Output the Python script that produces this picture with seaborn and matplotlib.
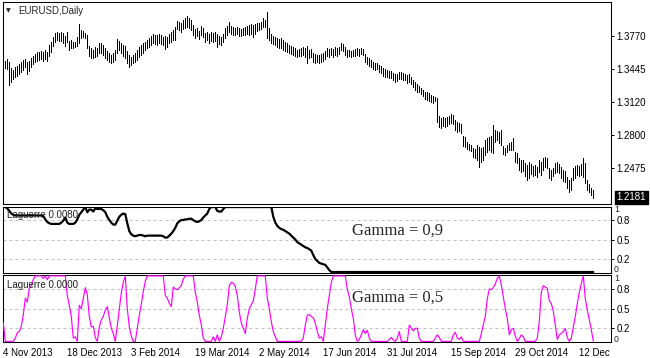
import numpy as np
import matplotlib
matplotlib.use("Agg")
import matplotlib.pyplot as plt
import matplotlib.transforms as mtrans
import seaborn as sns

# ---------------- data ----------------
symbol_title = "EURUSD,Daily"

highs = [
    1.3534, 1.3524, 1.3544, 1.3514, 1.3455, 1.3436, 1.3465, 1.3475, 1.3495, 1.3514,
    1.3534, 1.3544, 1.3514, 1.3524, 1.3554, 1.3573, 1.3593, 1.3613, 1.3613, 1.3623,
    1.3613, 1.3633, 1.3613, 1.3682, 1.3711, 1.3761, 1.3800, 1.3810, 1.3800, 1.3810,
    1.3800, 1.3770, 1.3810, 1.3721, 1.3731, 1.3711, 1.3711, 1.3761, 1.3889, 1.3830,
    1.3820, 1.3800, 1.3780, 1.3672, 1.3652, 1.3633, 1.3662, 1.3652, 1.3701, 1.3701,
    1.3682, 1.3652, 1.3623, 1.3603, 1.3583, 1.3603, 1.3633, 1.3741, 1.3721, 1.3701,
    1.3682, 1.3672, 1.3623, 1.3583, 1.3564, 1.3583, 1.3603, 1.3633, 1.3662, 1.3682,
    1.3701, 1.3711, 1.3731, 1.3751, 1.3770, 1.3790, 1.3780, 1.3780, 1.3790, 1.3780,
    1.3761, 1.3770, 1.3761, 1.3790, 1.3810, 1.3830, 1.3859, 1.3918, 1.3908, 1.3898,
    1.3928, 1.3948, 1.3967, 1.3948, 1.3928, 1.3879, 1.3839, 1.3849, 1.3820, 1.3869,
    1.3849, 1.3800, 1.3810, 1.3790, 1.3810, 1.3800, 1.3810, 1.3790, 1.3770, 1.3761,
    1.3790, 1.3849, 1.3869, 1.3908, 1.3869, 1.3859, 1.3849, 1.3859, 1.3849, 1.3839,
    1.3849, 1.3859, 1.3869, 1.3879, 1.3889, 1.3879, 1.3889, 1.3898, 1.3898, 1.3908,
    1.3948, 1.3928, 1.4007, 1.3849, 1.3790, 1.3770, 1.3761, 1.3751, 1.3741, 1.3751,
    1.3731, 1.3711, 1.3701, 1.3682, 1.3672, 1.3662, 1.3652, 1.3633, 1.3642, 1.3652,
    1.3662, 1.3652, 1.3672, 1.3633, 1.3642, 1.3603, 1.3593, 1.3583, 1.3583, 1.3593,
    1.3603, 1.3623, 1.3652, 1.3642, 1.3652, 1.3642, 1.3662, 1.3652, 1.3662, 1.3701,
    1.3692, 1.3662, 1.3633, 1.3633, 1.3623, 1.3633, 1.3642, 1.3652, 1.3642, 1.3652,
    1.3642, 1.3593, 1.3564, 1.3554, 1.3534, 1.3514, 1.3504, 1.3504, 1.3485, 1.3475,
    1.3455, 1.3445, 1.3436, 1.3426, 1.3426, 1.3406, 1.3396, 1.3396, 1.3416, 1.3416,
    1.3406, 1.3396, 1.3386, 1.3396, 1.3367, 1.3337, 1.3317, 1.3298, 1.3278, 1.3258,
    1.3239, 1.3219, 1.3219, 1.3209, 1.3189, 1.3179, 1.3170, 1.3160, 1.2982, 1.2963,
    1.2973, 1.2963, 1.2973, 1.2982, 1.3002, 1.2992, 1.2943, 1.2923, 1.2913, 1.2904,
    1.2785, 1.2776, 1.2726, 1.2707, 1.2697, 1.2667, 1.2657, 1.2697, 1.2677, 1.2667,
    1.2677, 1.2746, 1.2766, 1.2776, 1.2785, 1.2894, 1.2845, 1.2835, 1.2825, 1.2845,
    1.2687, 1.2667, 1.2697, 1.2717, 1.2726, 1.2766, 1.2628, 1.2618, 1.2569, 1.2549,
    1.2549, 1.2520, 1.2500, 1.2529, 1.2510, 1.2490, 1.2500, 1.2480, 1.2549, 1.2529,
    1.2569, 1.2579, 1.2569, 1.2470, 1.2451, 1.2470, 1.2520, 1.2529, 1.2510, 1.2480,
    1.2451, 1.2441, 1.2382, 1.2352, 1.2372, 1.2470, 1.2490, 1.2500, 1.2490, 1.2510,
    1.2569, 1.2520, 1.2352, 1.2313, 1.2273, 1.2254,
]

lows = [
    1.3436, 1.3455, 1.3445, 1.3288, 1.3317, 1.3347, 1.3367, 1.3376, 1.3396, 1.3416,
    1.3436, 1.3465, 1.3396, 1.3426, 1.3465, 1.3495, 1.3514, 1.3524, 1.3534, 1.3544,
    1.3524, 1.3544, 1.3524, 1.3573, 1.3613, 1.3672, 1.3711, 1.3731, 1.3721, 1.3721,
    1.3701, 1.3672, 1.3711, 1.3633, 1.3652, 1.3652, 1.3662, 1.3672, 1.3701, 1.3751,
    1.3761, 1.3751, 1.3652, 1.3573, 1.3554, 1.3554, 1.3564, 1.3573, 1.3603, 1.3603,
    1.3583, 1.3554, 1.3534, 1.3514, 1.3504, 1.3514, 1.3534, 1.3603, 1.3633, 1.3603,
    1.3573, 1.3554, 1.3504, 1.3465, 1.3485, 1.3504, 1.3514, 1.3534, 1.3564, 1.3583,
    1.3603, 1.3633, 1.3652, 1.3662, 1.3682, 1.3701, 1.3692, 1.3682, 1.3701, 1.3692,
    1.3682, 1.3642, 1.3662, 1.3701, 1.3711, 1.3731, 1.3731, 1.3839, 1.3830, 1.3810,
    1.3839, 1.3849, 1.3859, 1.3849, 1.3830, 1.3780, 1.3751, 1.3770, 1.3741, 1.3780,
    1.3761, 1.3711, 1.3731, 1.3701, 1.3721, 1.3711, 1.3721, 1.3662, 1.3692, 1.3682,
    1.3711, 1.3751, 1.3780, 1.3810, 1.3790, 1.3780, 1.3780, 1.3790, 1.3770, 1.3770,
    1.3780, 1.3780, 1.3790, 1.3780, 1.3790, 1.3761, 1.3790, 1.3820, 1.3830, 1.3839,
    1.3859, 1.3859, 1.3751, 1.3731, 1.3701, 1.3692, 1.3682, 1.3662, 1.3652, 1.3652,
    1.3633, 1.3623, 1.3613, 1.3603, 1.3593, 1.3583, 1.3573, 1.3564, 1.3573, 1.3573,
    1.3583, 1.3564, 1.3504, 1.3554, 1.3564, 1.3514, 1.3504, 1.3514, 1.3504, 1.3514,
    1.3524, 1.3544, 1.3573, 1.3564, 1.3583, 1.3564, 1.3583, 1.3573, 1.3593, 1.3633,
    1.3623, 1.3583, 1.3564, 1.3573, 1.3564, 1.3573, 1.3573, 1.3583, 1.3573, 1.3593,
    1.3583, 1.3514, 1.3495, 1.3475, 1.3465, 1.3445, 1.3436, 1.3445, 1.3416, 1.3406,
    1.3376, 1.3367, 1.3367, 1.3357, 1.3357, 1.3337, 1.3317, 1.3327, 1.3347, 1.3347,
    1.3337, 1.3337, 1.3307, 1.3317, 1.3298, 1.3268, 1.3239, 1.3219, 1.3219, 1.3199,
    1.3179, 1.3150, 1.3140, 1.3130, 1.3120, 1.3110, 1.3130, 1.2923, 1.2874, 1.2864,
    1.2884, 1.2874, 1.2884, 1.2904, 1.2913, 1.2904, 1.2845, 1.2825, 1.2835, 1.2815,
    1.2687, 1.2677, 1.2657, 1.2648, 1.2638, 1.2579, 1.2569, 1.2549, 1.2480, 1.2529,
    1.2549, 1.2598, 1.2628, 1.2648, 1.2628, 1.2618, 1.2726, 1.2746, 1.2717, 1.2697,
    1.2608, 1.2598, 1.2628, 1.2648, 1.2648, 1.2648, 1.2529, 1.2520, 1.2451, 1.2431,
    1.2441, 1.2391, 1.2352, 1.2372, 1.2411, 1.2391, 1.2401, 1.2382, 1.2431, 1.2401,
    1.2451, 1.2480, 1.2470, 1.2372, 1.2352, 1.2391, 1.2421, 1.2431, 1.2421, 1.2372,
    1.2342, 1.2332, 1.2273, 1.2234, 1.2254, 1.2352, 1.2372, 1.2401, 1.2391, 1.2401,
    1.2382, 1.2323, 1.2254, 1.2234, 1.2204, 1.2175,
]

last_price = 1.2181
price_ticks = [1.3770, 1.3445, 1.3120, 1.2800, 1.2475]

# Laguerre, gamma = 0.9
lag9 = [
    1.00, 1.00, 0.98, 0.94, 0.90, 0.88, 0.87, 0.87, 0.87, 0.87,
    0.87, 0.87, 0.87, 0.87, 0.87, 0.87, 0.87, 0.87, 0.87, 0.87,
    0.86, 0.81, 0.77, 0.75, 0.74, 0.74, 0.74, 0.74, 0.74, 0.76,
    0.79, 0.84, 0.76, 0.74, 0.74, 0.74, 0.76, 0.81, 0.88, 0.92,
    0.96, 1.00, 0.92, 0.96, 0.96, 0.93, 0.98, 0.97, 0.97, 0.97,
    0.95, 0.92, 0.85, 0.80, 0.76, 0.73, 0.73, 0.79, 0.85, 0.88,
    0.90, 0.89, 0.75, 0.63, 0.58, 0.56, 0.55, 0.56, 0.57, 0.57,
    0.56, 0.55, 0.56, 0.56, 0.56, 0.56, 0.56, 0.56, 0.56, 0.56,
    0.55, 0.53, 0.53, 0.56, 0.59, 0.63, 0.68, 0.75, 0.78, 0.80,
    0.80, 0.81, 0.81, 0.82, 0.82, 0.80, 0.78, 0.77, 0.78, 0.80,
    0.84, 0.87, 0.90, 0.97, 1.00, 1.00, 1.00, 0.94, 0.93, 0.93,
    0.97, 1.00, 1.00, 1.00, 1.00, 1.00, 1.00, 1.00, 1.00, 1.00,
    1.00, 1.00, 1.00, 1.00, 1.00, 1.00, 1.00, 1.00, 1.00, 1.00,
    1.00, 1.00, 1.00, 1.00, 1.00, 0.85, 0.76, 0.71, 0.68, 0.66,
    0.65, 0.63, 0.61, 0.59, 0.56, 0.53, 0.50, 0.46, 0.44, 0.42,
    0.40, 0.38, 0.37, 0.35, 0.33, 0.26, 0.20, 0.17, 0.14, 0.13,
    0.12, 0.11, 0.07, 0.03, 0.00, 0.00, 0.00, 0.00, 0.00, 0.00,
    0.00, 0.00, 0.00, 0.00, 0.00, 0.00, 0.00, 0.00, 0.00, 0.00,
    0.00, 0.00, 0.00, 0.00, 0.00, 0.00, 0.00, 0.00, 0.00, 0.00,
    0.00, 0.00, 0.00, 0.00, 0.00, 0.00, 0.00, 0.00, 0.00, 0.00,
    0.00, 0.00, 0.00, 0.00, 0.00, 0.00, 0.00, 0.00, 0.00, 0.00,
    0.00, 0.00, 0.00, 0.00, 0.00, 0.00, 0.00, 0.00, 0.00, 0.00,
    0.00, 0.00, 0.00, 0.00, 0.00, 0.00, 0.00, 0.00, 0.00, 0.00,
    0.00, 0.00, 0.00, 0.00, 0.00, 0.00, 0.00, 0.00, 0.00, 0.00,
    0.00, 0.00, 0.00, 0.00, 0.00, 0.00, 0.00, 0.00, 0.00, 0.00,
    0.00, 0.00, 0.00, 0.00, 0.00, 0.00, 0.00, 0.00, 0.00, 0.00,
    0.00, 0.00, 0.00, 0.00, 0.00, 0.00, 0.00, 0.00, 0.00, 0.00,
    0.00, 0.00, 0.00, 0.00, 0.00, 0.00, 0.00, 0.00, 0.00, 0.00,
    0.00, 0.00, 0.00, 0.00, 0.00, 0.00, 0.00, 0.00, 0.00, 0.00,
    0.00, 0.00, 0.00, 0.00, 0.00, 0.00,
]

# Laguerre, gamma = 0.5
lag5 = [
    0.28, 0.00, 0.00, 0.00, 0.00, 0.00, 0.05, 0.13, 0.15, 0.23,
    0.40, 0.66, 0.60, 0.81, 0.85, 0.94, 1.00, 1.00, 1.00, 1.00,
    0.96, 1.00, 0.94, 1.00, 1.00, 1.00, 1.00, 1.00, 1.00, 1.00,
    1.00, 1.00, 0.70, 0.55, 0.38, 0.05, 0.07, 0.00, 0.55, 0.50,
    0.66, 0.82, 0.71, 0.38, 0.22, 0.23, 0.06, 0.00, 0.22, 0.33,
    0.38, 0.48, 0.53, 0.36, 0.20, 0.12, 0.00, 0.25, 0.51, 0.74,
    0.90, 1.00, 0.50, 0.22, 0.08, 0.00, 0.00, 0.20, 0.40, 0.57,
    0.76, 0.92, 1.00, 1.00, 1.00, 1.00, 1.00, 1.00, 1.00, 1.00,
    1.00, 0.70, 0.66, 0.58, 0.53, 0.83, 0.80, 0.79, 0.82, 0.85,
    0.95, 1.00, 1.00, 1.00, 1.00, 1.00, 0.75, 0.60, 0.40, 0.25,
    0.05, 0.00, 0.00, 0.00, 0.00, 0.07, 0.00, 0.10, 0.00, 0.07,
    0.20, 0.38, 0.56, 0.85, 0.90, 0.89, 0.84, 0.70, 0.45, 0.28,
    0.20, 0.12, 0.35, 0.50, 0.56, 0.62, 0.80, 1.00, 1.00, 1.00,
    1.00, 1.00, 0.66, 0.50, 0.30, 0.15, 0.07, 0.00, 0.00, 0.00,
    0.00, 0.00, 0.00, 0.00, 0.00, 0.00, 0.00, 0.00, 0.00, 0.00,
    0.05, 0.25, 0.40, 0.41, 0.38, 0.36, 0.28, 0.15, 0.05, 0.07,
    0.00, 0.25, 0.50, 0.70, 0.90, 1.00, 1.00, 1.00, 1.00, 1.00,
    1.00, 1.00, 0.80, 0.68, 0.50, 0.35, 0.10, 0.00, 0.03, 0.10,
    0.18, 0.12, 0.17, 0.05, 0.00, 0.00, 0.00, 0.00, 0.00, 0.00,
    0.00, 0.00, 0.00, 0.03, 0.06, 0.02, 0.00, 0.05, 0.15, 0.00,
    0.00, 0.00, 0.00, 0.25, 0.20, 0.16, 0.20, 0.20, 0.05, 0.00,
    0.00, 0.00, 0.00, 0.00, 0.00, 0.00, 0.05, 0.10, 0.06, 0.00,
    0.00, 0.00, 0.00, 0.00, 0.00, 0.10, 0.14, 0.05, 0.03, 0.07,
    0.00, 0.00, 0.00, 0.00, 0.00, 0.00, 0.00, 0.00, 0.00, 0.12,
    0.25, 0.38, 0.65, 0.80, 0.79, 0.82, 0.88, 0.96, 1.00, 0.86,
    0.68, 0.50, 0.35, 0.10, 0.18, 0.20, 0.08, 0.00, 0.04, 0.10,
    0.07, 0.00, 0.00, 0.00, 0.00, 0.00, 0.00, 0.05, 0.30, 0.75,
    0.85, 0.83, 0.81, 0.62, 0.58, 0.46, 0.25, 0.03, 0.10, 0.12,
    0.15, 0.20, 0.06, 0.00, 0.05, 0.22, 0.38, 0.58, 0.75, 0.88,
    1.00, 0.65, 0.48, 0.33, 0.18, 0.00,
]

level_lines = [0.8, 0.5, 0.2]
level_labels = ["0.8", "0.5", "0.2"]

date_tick_bars = [0, 32, 64, 96, 128, 160, 192, 224, 256, 288]
date_tick_labels = ["4 Nov 2013", "18 Dec 2013", "3 Feb 2014", "19 Mar 2014",
                    "2 May 2014", "17 Jun 2014", "31 Jul 2014", "15 Sep 2014",
                    "29 Oct 2014", "12 Dec"]

# ---------------- drawing ----------------
sns.set_style("white")
plt.rcParams["font.family"] = ["Liberation Sans", "DejaVu Sans"]

W, H = 650, 358
fig = plt.figure(figsize=(W / 100, H / 100), dpi=100)
fig.patch.set_facecolor("white")


def rect(x0, y0, x1, y1):
    return [x0 / W, 1 - y1 / H, (x1 - x0) / W, (y1 - y0) / H]


ax0 = fig.add_axes(rect(3, 2, 611, 204))
ax1 = fig.add_axes(rect(3, 206.7, 611, 273))
ax2 = fig.add_axes(rect(3, 275.3, 611, 341.7))

XLIM = (-0.15, 303.85)
FS = 7

for ax in (ax0, ax1, ax2):
    ax.set_facecolor("white")
    ax.set_xlim(*XLIM)
    for sp in ax.spines.values():
        sp.set_visible(True)
        sp.set_color("black")
        sp.set_linewidth(0.75)
    ax.yaxis.tick_right()
    ax.tick_params(axis="y", direction="out", length=2.2, width=0.72,
                   pad=1.5, labelsize=FS, colors="black")

# --- price bars (high-low)
xb = np.arange(len(highs))
ax0.vlines(xb, lows[:len(highs)], highs, colors="black", linewidth=0.5,
           antialiased=False)
ax0.set_ylim(1.2116, 1.4105)
ax0.set_xticks([])
ax0.set_yticks(price_ticks)
ax0.set_yticklabels([f"{v:.4f}" for v in price_ticks])

blend0 = mtrans.blended_transform_factory(ax0.transAxes, ax0.transData)
ax0.text(1.0 + 5.5 / 608, last_price, f"{last_price:.4f}", transform=blend0,
         ha="left", va="center", color="white", fontsize=FS,
         bbox=dict(facecolor="black", edgecolor="black",
                   boxstyle="square,pad=0.18"))

# --- indicator panes
for ax, vals, col, lw, ylim in (
        (ax1, lag9, "black", 1.6, (-0.015, 1.005)),
        (ax2, lag5, "#ff00ff", 0.85, (-0.005, 1.009))):
    for lv in level_lines:
        ax.axhline(lv, color="#c0c0c0", linewidth=0.72, linestyle=(0, (3, 3)),
                   zorder=0)
    sns.lineplot(x=np.arange(len(vals)), y=vals, ax=ax, color=col,
                 linewidth=lw, zorder=3)
    ax.set_ylim(*ylim)
    ax.set_xlabel("")
    ax.set_ylabel("")
    ax.set_yticks(level_lines)
    ax.set_yticklabels(level_labels)

ax1.set_xticks([])
ax2.set_xticks(date_tick_bars)
ax2.set_xticklabels(date_tick_labels, ha="left", fontsize=FS)
ax2.tick_params(axis="x", direction="out", length=2.2, width=0.72, pad=2,
                colors="black")

# --- texts
def ftext(x, y, s, **kw):
    fig.text(x / W, 1 - y / H, s, **kw)


ftext(8.5, 11, "\u25bc", fontsize=4.5, ha="center", va="center",
      family=["DejaVu Sans"])
ftext(18, 11.5, symbol_title, fontsize=FS, ha="left", va="center")
ftext(7, 215.5, "Laguerre 0.0080", fontsize=FS, ha="left", va="center",
      color="#202020")
ftext(7, 285, "Laguerre 0.0000", fontsize=FS, ha="left", va="center",
      color="#202020")
ftext(352, 234.3, "Gamma = 0,9", fontsize=12, ha="left", va="baseline",
      family=["Liberation Serif", "DejaVu Serif"])
ftext(352, 301.7, "Gamma = 0,5", fontsize=12, ha="left", va="baseline",
      family=["Liberation Serif", "DejaVu Serif"])

# top / bottom scale marks of the indicator panes
ftext(614, 210.0, "1", fontsize=6.3, ha="left", va="center")
ftext(614, 270.0, "0", fontsize=6.3, ha="left", va="center")
ftext(614, 278.8, "1", fontsize=6.3, ha="left", va="center")
ftext(614, 339.0, "0", fontsize=6.3, ha="left", va="center")

fig.savefig("out.png", dpi=100, facecolor="white")
